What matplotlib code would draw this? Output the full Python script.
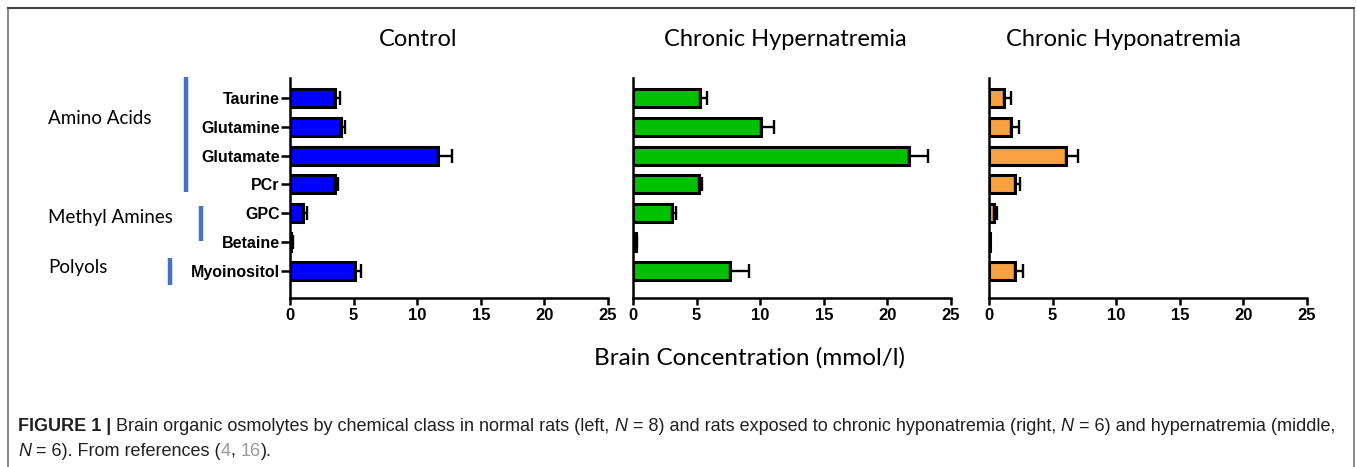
import numpy as np
import matplotlib
matplotlib.use('Agg')
import matplotlib.pyplot as plt

# values (mmol/l)
categories = ['Taurine', 'Glutamine', 'Glutamate', 'PCr', 'GPC', 'Betaine', 'Myoinositol']
control = [3.5, 4.0, 11.6, 3.5, 1.05, 0.1, 5.1]
control_err = [0.45, 0.35, 1.1, 0.3, 0.25, 0.1, 0.45]
hyper = [5.3, 10.1, 21.7, 5.2, 3.05, 0.2, 7.6]
hyper_err = [0.55, 1.0, 1.5, 0.2, 0.35, 0.15, 1.55]
hypo = [1.2, 1.7, 6.05, 2.05, 0.4, 0.05, 2.05]
hypo_err = [0.5, 0.65, 0.95, 0.4, 0.2, 0.03, 0.65]

titles = ['Control', 'Chronic Hypernatremia', 'Chronic Hyponatremia']
colors = ['#0000ff', '#00c000', '#f9a040']
xticks = [0, 5, 10, 15, 20, 25]
groups = ['Amino Acids', 'Methyl Amines', 'Polyols']

W, H = 1357, 467
fig = plt.figure(figsize=(W / 100, H / 100), dpi=100)

# overlay in pixel coordinates for decorations
ov = fig.add_axes([0, 0, 1, 1])
ov.set_xlim(0, W)
ov.set_ylim(H, 0)
ov.axis('off')

label_font = ['Lato', 'DejaVu Sans']
tick_font = ['Liberation Sans', 'DejaVu Sans']

panels = [(290, control, control_err), (633, hyper, hyper_err), (989, hypo, hypo_err)]
title_x = [418, 785, 1123]
ypos = np.arange(len(categories))
for i, (left, vals, errs) in enumerate(panels):
    ax = fig.add_axes([left / W, (H - 298) / H, 318 / W, 220 / H])
    ax.barh(ypos, vals, height=0.62, color=colors[i], edgecolor='black', linewidth=2.2, zorder=2)
    ax.errorbar(vals, ypos, xerr=[np.zeros(len(vals)), errs], fmt='none', ecolor='black',
                elinewidth=1.7, capsize=5, capthick=1.7, zorder=3)
    ax.set_xlim(0, 25)
    ax.set_ylim(6.94, -0.69)
    ax.set_xticks(xticks)
    ax.set_xticklabels([str(t) for t in xticks], fontsize=12, fontweight='bold', family=tick_font)
    for s in ['top', 'right']:
        ax.spines[s].set_visible(False)
    for s in ['left', 'bottom']:
        ax.spines[s].set_linewidth(1.8)
    ax.tick_params(axis='x', length=5, width=1.8, pad=2)
    if i == 0:
        ax.set_yticks(ypos)
        ax.set_yticklabels(categories, fontsize=11.5, fontweight='bold', family=tick_font)
        ax.tick_params(axis='y', length=6.5, width=1.8, pad=1)
    else:
        ax.set_yticks([])
    ov.text(title_x[i], 40, titles[i], fontsize=17, family=label_font, ha='center', va='center')

# group labels with blue brackets
ov.text(48, 118, groups[0], fontsize=13.5, family=label_font, va='center')
ov.text(48, 218, groups[1], fontsize=13.5, family=label_font, va='center')
ov.text(48, 268, groups[2], fontsize=13.5, family=label_font, va='center')
ov.plot([186, 186], [77, 192], color='#4472c4', lw=3.2, solid_capstyle='butt')
ov.plot([201, 201], [206, 241], color='#4472c4', lw=3.2, solid_capstyle='butt')
ov.plot([170, 170], [258, 285], color='#4472c4', lw=3.2, solid_capstyle='butt')

ov.text(750, 358, 'Brain Concentration (mmol/l)', fontsize=17.5, family=label_font,
        ha='center', va='center')

# frame around the figure
ov.plot([8, 8, 1354, 1354], [H, 8, 8, H], color='#777777', lw=1.2)
ov.plot([8, 1354], [8, 8], color='#444444', lw=1.5)

# caption built from pieces
cap_font = ['Liberation Sans Narrow', 'Liberation Sans']
txt_col = '#231f20'
renderer = fig.canvas.get_renderer()


def put_line(x, y, pieces):
    for s, kw in pieces:
        t = ov.text(x, y, s, fontsize=13, family=cap_font, color=kw.get('color', txt_col),
                    fontweight=kw.get('weight', 'normal'), fontstyle=kw.get('style', 'normal'),
                    va='baseline')
        bb = t.get_window_extent(renderer=renderer)
        x += bb.width


put_line(18, 431, [
    ('FIGURE 1 |', {'weight': 'bold'}),
    (' Brain organic osmolytes by chemical class in normal rats (left, ', {}),
    ('N', {'style': 'italic'}),
    (' = 8) and rats exposed to chronic hyponatremia (right, ', {}),
    ('N', {'style': 'italic'}),
    (' = 6) and hypernatremia (middle,', {}),
])
put_line(18, 456, [
    ('N', {'style': 'italic'}),
    (' = 6). From references (', {}),
    ('4', {'color': '#9a9a9a'}),
    (', ', {}),
    ('16', {'color': '#9a9a9a'}),
    (').', {}),
])

fig.savefig('out.png', dpi=100)
